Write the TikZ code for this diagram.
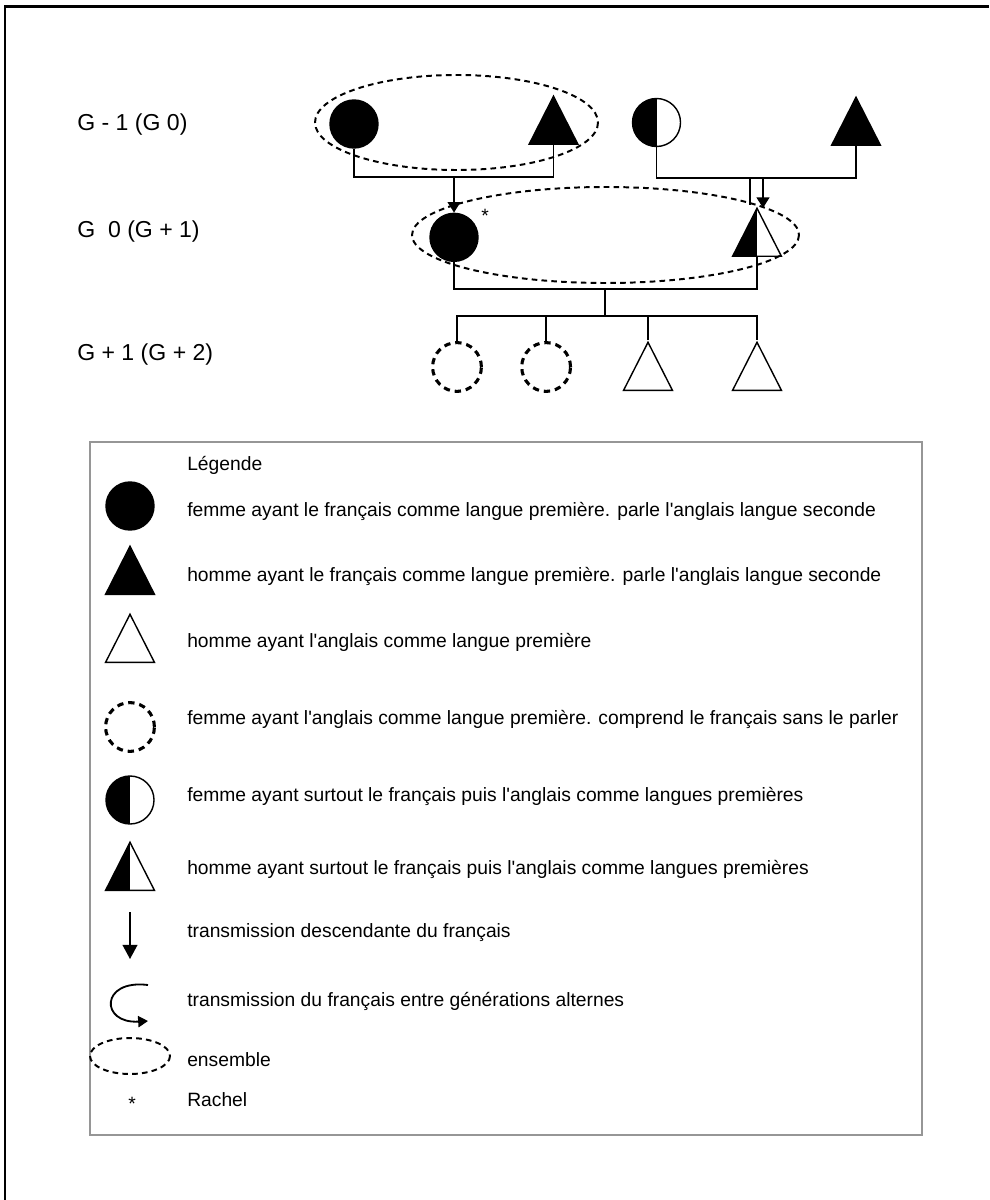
\documentclass[tikz,border=0pt]{standalone}
\usepackage{fontspec}
\setmainfont{Liberation Sans}
\usepackage{tikz}
\usetikzlibrary{arrows.meta,%
                shapes,positioning}
\definecolor{cadre}{RGB}{150,150,150}

\begin{document}
\begin{tikzpicture}[x=0.025cm, y=-0.025cm]
  \tikzset{Lien/.style = {line width=1pt, draw=black}}
  \tikzset{Femme/.style = {shape          = circle,
                           draw           = black,
                           line width     = 1pt,
                           inner sep      = 0pt,
                           minimum size   = 1.2cm}}
  \tikzset{Homme/.style = {shape          = isosceles triangle,
                           isosceles triangle stretches,
                           shape border rotate = 90,
                           draw           = black,
                           line width     = 1pt,
                           inner sep      = 0pt,
                           minimum width  = 1.22cm,
                           minimum height = 1.2cm}}
  \tikzset{FR/.style = {fill=black}}
  \tikzset{EN/.style = {fill=white}}
  \tikzset{Mixte/.style = {path picture={\fill[black] (path picture bounding box.south west) rectangle (path picture bounding box.north);}}}
  \tikzset{FemmeEN/.style = {Femme, fill=white, minimum size=1.22cm, line width=2.2pt, dash pattern=on 4.5pt off 3.5pt}}
  \tikzset{Ensemble/.style = {line width=1.4pt, dash pattern=on 4pt off 3pt}}
  \tikzset{Transmission/.style = {line width=1.4pt, -{Triangle[width=9pt,length=7.5pt]}}}
  \tikzset{Gen/.style = {anchor=west, inner sep=0pt, font=\fontsize{16.4}{19}\selectfont}}
  \tikzset{Texte/.style = {anchor=west, inner sep=0pt, text height=1.5ex, text depth=.25ex,
                           font=\fontsize{13.7}{16}\selectfont}}
  \useasboundingbox (0,0) rectangle (989,1200);
  %%% CADRE %%%
  \draw[line width=2.1pt] (5,1200) -- (5,6.5) -- (989,6.5);
  %%% GENERATIONS %%%
  \node[Gen] (g1) at (77,125) {G - 1 (G 0)};
  \node[Gen] (g2) at (77,232) {G\ \ 0 (G + 1)};
  \node[Gen] (g3) at (77,355) {G + 1 (G + 2)};
  %%% G - 1 %%%
  \node[Femme, FR] (mere1) at (354,124) {};
  \node[Homme, FR, anchor=lower side] (pere1) at (553.5,145) {};
  \coordinate (lien1) at (454,177);
  \draw[Lien] (mere1.south) |- (lien1) -| (pere1.lower side);
  \node[Femme, EN, Mixte] (mere2) at (656.5,122.5) {};
  \node[Homme, FR, anchor=lower side] (pere2) at (856,146) {};
  \coordinate (lien2) at (757,178);
  \draw[Lien] (mere2.south) |- (lien2) -| (pere2.lower side);
  %%% G 0 %%%
  \node[Femme, FR, below=0.89cm of lien1] (ego) {};
  \node[Texte, text height=, text depth=] (rachel) at (481,216) {*};
  \node[Homme, EN, Mixte, anchor=lower side] (mari) at (757,257) {};
  \draw[Transmission] (lien1) -- (ego);
  \coordinate (lien2g) at (750,178);
  \coordinate (fin2g) at (750,205);
  \coordinate (lien2d) at (763,178);
  \coordinate (fin2d) at (763,208);
  \draw[Lien] (lien2g) -- (fin2g);
  \draw[Transmission] (lien2d) -- (fin2d);
  \coordinate (lien3) at (605,289);
  \draw[Lien] (ego.south) |- (lien3) -| (mari.lower side);
  %%% G + 1 %%%
  \node[FemmeEN] (enf1) at (457,367) {};
  \node[FemmeEN, right=0.93cm of enf1] (enf2) {};
  \node[Homme, EN, anchor=lower side] (enf3) at (648,391) {};
  \node[Homme, EN, anchor=lower side] (enf4) at (757,391) {};
  \coordinate (lien4) at (605,316);
  \draw[Lien] (lien3) -- (lien4);
  \draw[Lien] (enf1.north) |- (lien4) -| (enf4.apex);
  \draw[Lien] (enf2.north) -- (enf2.north |- lien4);
  \draw[Lien] (enf3.apex) -- (enf3.apex |- lien4);
  %%% ENSEMBLES %%%
  \draw[Ensemble] (456.5,122.5) ellipse [x radius=141.5, y radius=47.5];
  \draw[Ensemble] (605.5,235) ellipse [x radius=193.5, y radius=48];
  %%% LEGENDE %%%
  \draw[cadre, line width=2pt] (90,442) rectangle (922,1135);
  \node[Texte] (titre) at (187,466) {Légende};
  \node[Femme, FR] (leg1) at (130,506) {};
  \node[Texte] (txt1) at (187,512) {femme ayant le français comme langue première. parle l\textquotesingle anglais langue seconde};
  \node[Homme, FR, anchor=lower side] (leg2) at (130,595) {};
  \node[Texte] (txt2) at (187,577) {homme ayant le français comme langue première. parle l\textquotesingle anglais langue seconde};
  \node[Homme, EN, anchor=lower side] (leg3) at (130,663) {};
  \node[Texte] (txt3) at (187,643) {homme ayant l\textquotesingle anglais comme langue première};
  \node[FemmeEN] (leg4) at (130,727) {};
  \node[Texte] (txt4) at (187,720) {femme ayant l\textquotesingle anglais comme langue première. comprend le français sans le parler};
  \node[Femme, EN, Mixte] (leg5) at (130,800) {};
  \node[Texte] (txt5) at (187,797) {femme ayant surtout le français puis l\textquotesingle anglais comme langues premières};
  \node[Homme, EN, Mixte, anchor=lower side] (leg6) at (130,891) {};
  \node[Texte] (txt6) at (187,870) {homme ayant surtout le français puis l\textquotesingle anglais comme langues premières};
  \draw[line width=1.1pt, -{Triangle[width=10.5pt,length=10pt]}] (130,912) -- (130,959);
  \node[Texte] (txt7) at (187,933) {transmission descendante du français};
  \draw[line width=1.3pt, -{Triangle[width=8pt,length=7pt]}] (148,985) .. controls (100,979) and (100,1024) .. (148,1021);
  \node[Texte] (txt8) at (187,1002) {transmission du français entre générations alternes};
  \draw[Ensemble] (130,1056) ellipse [x radius=40, y radius=18];
  \node[Texte] (txt9) at (187,1062) {ensemble};
  \node[Texte, anchor=center, text height=, text depth=] (leg10) at (132,1104) {*};
  \node[Texte] (txt10) at (187,1102) {Rachel};
\end{tikzpicture}
\end{document}
